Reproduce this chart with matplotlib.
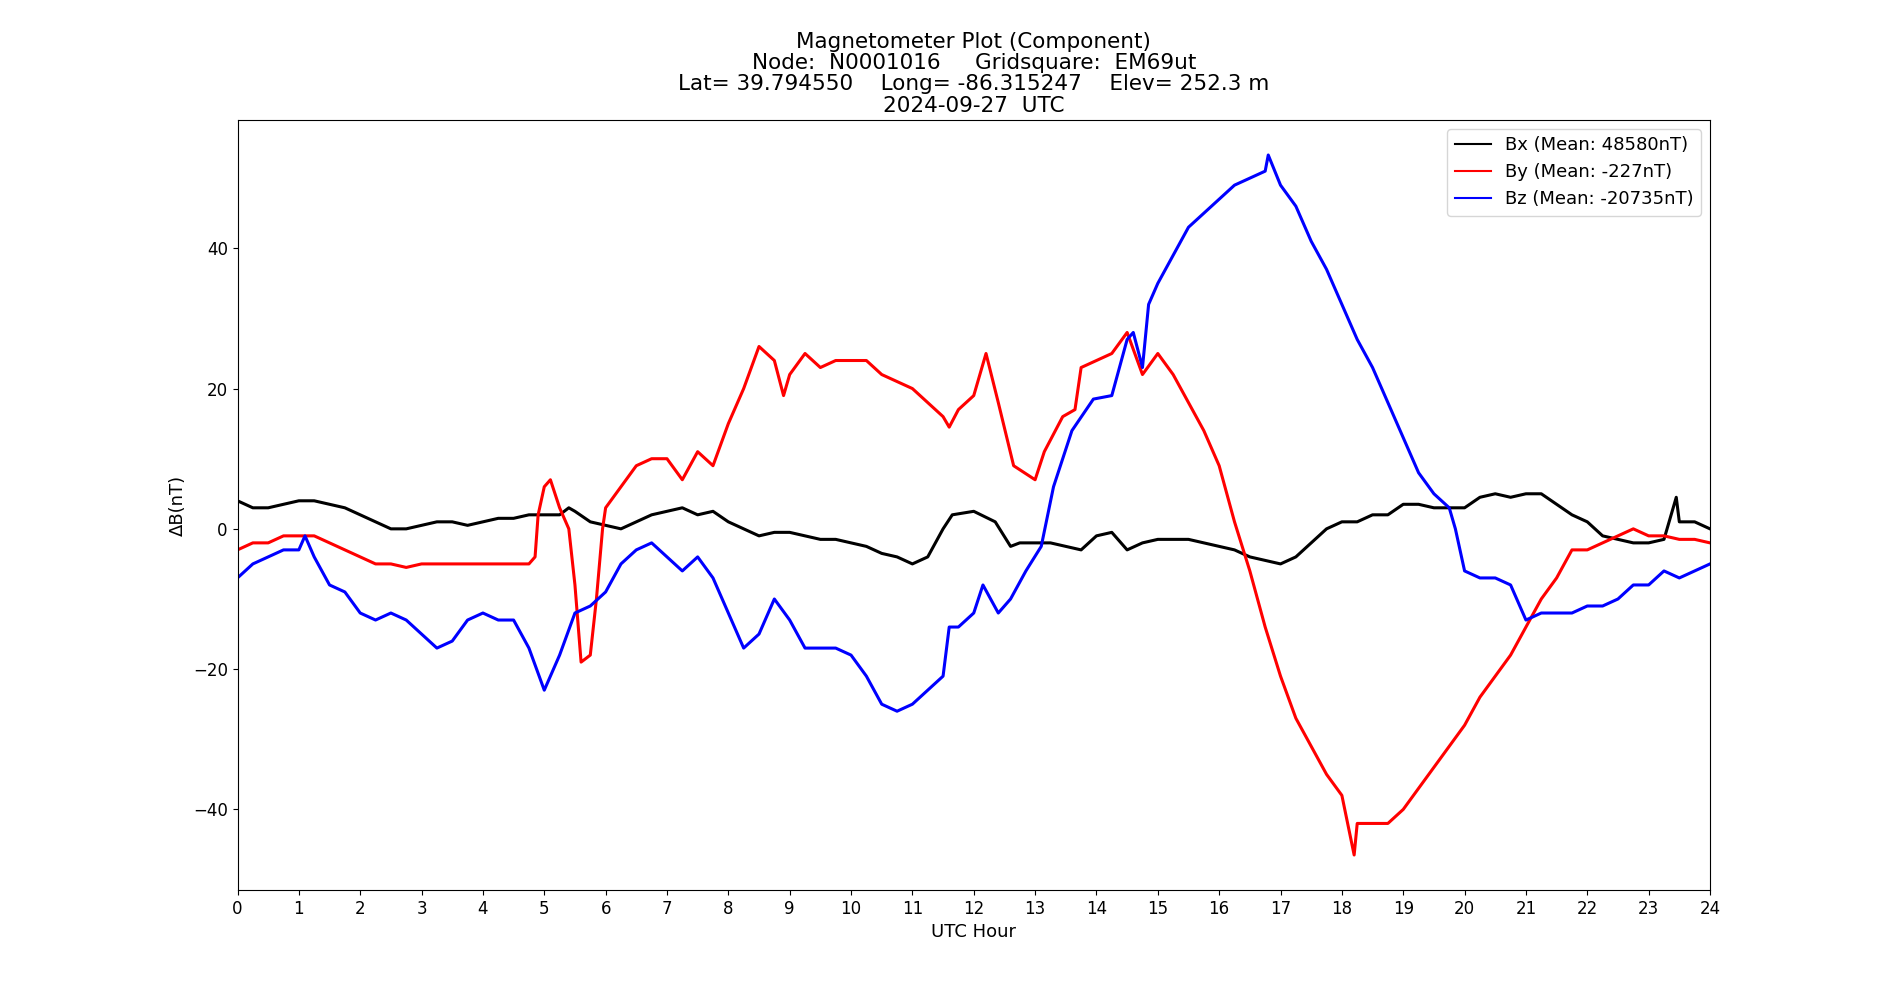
import matplotlib
matplotlib.use("Agg")
import matplotlib.pyplot as plt

hours_x = [0.0, 0.25, 0.5, 0.75, 1.0, 1.25, 1.5, 1.75, 2.0, 2.25, 2.5, 2.75, 3.0, 3.25, 3.5, 3.75,
           4.0, 4.25, 4.5, 4.75, 5.0, 5.25, 5.4, 5.5, 5.75, 6.0, 6.25, 6.5, 6.75, 7.0, 7.25, 7.5,
           7.75, 8.0, 8.25, 8.5, 8.75, 9.0, 9.25, 9.5, 9.75, 10.0, 10.25, 10.5, 10.75, 11.0, 11.25,
           11.5, 11.65, 12.0, 12.35, 12.6, 12.75, 13.0, 13.25, 13.5, 13.75, 14.0, 14.25, 14.5, 14.75,
           15.0, 15.25, 15.5, 15.75, 16.0, 16.25, 16.5, 16.75, 17.0, 17.25, 17.5, 17.75, 18.0, 18.25,
           18.5, 18.75, 19.0, 19.25, 19.5, 19.75, 20.0, 20.25, 20.5, 20.75, 21.0, 21.25, 21.5, 21.75,
           22.0, 22.25, 22.5, 22.75, 23.0, 23.25, 23.45, 23.5, 23.75, 24.0]
bx = [4, 3, 3, 3.5, 4, 4, 3.5, 3, 2, 1, 0, 0, 0.5, 1, 1, 0.5,
      1, 1.5, 1.5, 2, 2, 2, 3, 2.5, 1, 0.5, 0, 1, 2, 2.5, 3, 2,
      2.5, 1, 0, -1, -0.5, -0.5, -1, -1.5, -1.5, -2, -2.5, -3.5, -4, -5, -4,
      0, 2, 2.5, 1, -2.5, -2, -2, -2, -2.5, -3, -1, -0.5, -3, -2,
      -1.5, -1.5, -1.5, -2, -2.5, -3, -4, -4.5, -5, -4, -2, 0, 1, 1,
      2, 2, 3.5, 3.5, 3, 3, 3, 4.5, 5, 4.5, 5, 5, 3.5, 2,
      1, -1, -1.5, -2, -2, -1.5, 4.5, 1, 1, 0]

hours_y = [0.0, 0.25, 0.5, 0.75, 1.0, 1.25, 1.5, 1.75, 2.0, 2.25, 2.5, 2.75, 3.0, 3.25, 3.5, 3.75,
           4.0, 4.25, 4.5, 4.75, 4.85, 4.9, 5.0, 5.1, 5.25, 5.4, 5.5, 5.6, 5.75, 5.85, 5.95, 6.0,
           6.25, 6.5, 6.75, 7.0, 7.25, 7.5, 7.75, 8.0, 8.25, 8.5, 8.75, 8.9, 9.0, 9.25, 9.5, 9.75,
           10.0, 10.25, 10.5, 10.75, 11.0, 11.25, 11.5, 11.6, 11.75, 12.0, 12.2, 12.4, 12.65, 13.0,
           13.15, 13.45, 13.65, 13.75, 14.0, 14.25, 14.5, 14.75, 15.0, 15.25, 15.5, 15.75, 16.0, 16.25,
           16.5, 16.75, 17.0, 17.25, 17.5, 17.75, 18.0, 18.2, 18.25, 18.5, 18.75, 19.0, 19.25, 19.5,
           19.75, 20.0, 20.25, 20.5, 20.75, 21.0, 21.25, 21.5, 21.75, 22.0, 22.25, 22.5, 22.75, 23.0,
           23.25, 23.5, 23.75, 24.0]
by = [-3, -2, -2, -1, -1, -1, -2, -3, -4, -5, -5, -5.5, -5, -5, -5, -5,
      -5, -5, -5, -5, -4, 2, 6, 7, 3, 0, -8, -19, -18, -10, 0, 3,
      6, 9, 10, 10, 7, 11, 9, 15, 20, 26, 24, 19, 22, 25, 23, 24,
      24, 24, 22, 21, 20, 18, 16, 14.5, 17, 19, 25, 18, 9, 7,
      11, 16, 17, 23, 24, 25, 28, 22, 25, 22, 18, 14, 9, 1,
      -6, -14, -21, -27, -31, -35, -38, -46.5, -42, -42, -42, -40, -37, -34,
      -31, -28, -24, -21, -18, -14, -10, -7, -3, -3, -2, -1, 0, -1,
      -1, -1.5, -1.5, -2]

hours_z = [0.0, 0.25, 0.5, 0.75, 1.0, 1.1, 1.25, 1.5, 1.75, 2.0, 2.25, 2.5, 2.75, 3.0, 3.25, 3.5,
           3.75, 4.0, 4.25, 4.5, 4.75, 5.0, 5.25, 5.5, 5.75, 6.0, 6.25, 6.5, 6.75, 7.0, 7.25, 7.5,
           7.75, 8.0, 8.25, 8.5, 8.75, 9.0, 9.25, 9.5, 9.75, 10.0, 10.25, 10.5, 10.75, 11.0, 11.25,
           11.5, 11.6, 11.75, 12.0, 12.15, 12.4, 12.6, 12.85, 13.1, 13.3, 13.6, 13.95, 14.25, 14.5,
           14.6, 14.75, 14.85, 15.0, 15.25, 15.5, 15.75, 16.0, 16.25, 16.5, 16.75, 16.8, 17.0, 17.25,
           17.5, 17.75, 18.0, 18.25, 18.5, 18.75, 19.0, 19.25, 19.5, 19.75, 19.85, 20.0, 20.25, 20.5,
           20.75, 21.0, 21.25, 21.5, 21.75, 22.0, 22.25, 22.5, 22.75, 23.0, 23.25, 23.5, 23.75, 24.0]
bz = [-7, -5, -4, -3, -3, -1, -4, -8, -9, -12, -13, -12, -13, -15, -17, -16,
      -13, -12, -13, -13, -17, -23, -18, -12, -11, -9, -5, -3, -2, -4, -6, -4,
      -7, -12, -17, -15, -10, -13, -17, -17, -17, -18, -21, -25, -26, -25, -23,
      -21, -14, -14, -12, -8, -12, -10, -6, -2.5, 6, 14, 18.5, 19, 27,
      28, 23, 32, 35, 39, 43, 45, 47, 49, 50, 51, 53.3, 49, 46,
      41, 37, 32, 27, 23, 18, 13, 8, 5, 3, 0, -6, -7, -7,
      -8, -13, -12, -12, -12, -11, -11, -10, -8, -8, -6, -7, -6, -5]

labels = ["Bx (Mean: 48580nT)", "By (Mean: -227nT)", "Bz (Mean: -20735nT)"]
title = ("Magnetometer Plot (Component)\n"
         "Node:  N0001016     Gridsquare:  EM69ut\n"
         "Lat= 39.794550    Long= -86.315247    Elev= 252.3 m\n"
         "2024-09-27  UTC")

fig, ax = plt.subplots(figsize=(19, 10), dpi=100)
ax.plot(hours_x, bx, color="black", lw=2.2, label=labels[0])
ax.plot(hours_y, by, color="red", lw=2.2, label=labels[1])
ax.plot(hours_z, bz, color="blue", lw=2.2, label=labels[2])
ax.set_xlim(0, 24)
ax.set_xticks(range(0, 25))
ax.tick_params(labelsize=12)
ax.set_xlabel("UTC Hour", fontsize=13)
ax.set_ylabel("ΔB(nT)", fontsize=13)
ax.set_title(title, fontsize=15.5, linespacing=1.08)
leg = ax.legend(loc="upper right", fontsize=13)
for l in leg.get_lines():
    l.set_linewidth(1.5)
fig.savefig("out.png", dpi=100)
